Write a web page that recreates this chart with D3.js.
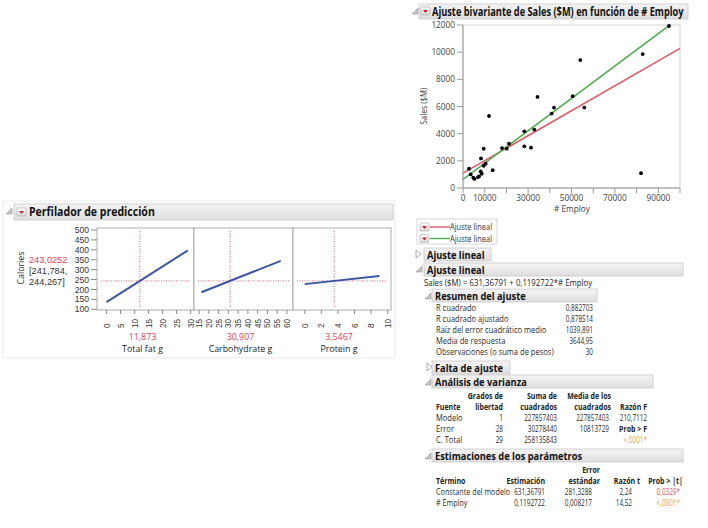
<!DOCTYPE html>
<html><head><meta charset="utf-8">
<script src="https://cdnjs.cloudflare.com/ajax/libs/d3/7.8.5/d3.min.js"></script>
<style>body{margin:0;background:#fff;} svg{display:block;font-family:"Open Sans","Noto Sans",sans-serif;}</style>
</head><body><svg id="c" width="708" height="528"></svg>
<script>
// ---------------- DATA ----------------
const employ = [2765,3548,4747,5300,7373,6900,8157,8618,8295,9539,9539,10461,11982,13687,17972,20138,21198,28249,28249,31336,32857,40876,41935,34332,50553,54055,55899,82811,94931,82028];
const sales  = [1418,997,753,665,849,800,1218,1049,2178,2895,1639,1787,5302,1314,2939,2895,3264,4172,3065,2969,4298,5480,5923,6705,6757,9416,5923,9859,11927,1093];
const fitRed = [1093, 0.0919];            // intercept, slope
const fitGreen = [631.36791, 0.1192722];  // intercept, slope
const scatterXTicks = [0,10000,20000,30000,40000,50000,60000,70000,80000,90000,100000];
const scatterXLabels = ["0","10000","","30000","","50000","","70000","","90000",""];
const scatterYTicks = [0,2000,4000,6000,8000,10000,12000];

const profFactors = ["Total fat g","Carbohydrate g","Protein g"];
const profCurrent = [11.873,30.907,3.5467];
const profCurrentLabels = ["11,873","30,907","3,5467"];
const profDomains = [[-3.4,31.2],[12.4,63.1],[-1.42,10.4]];
const profTicks = [[0,5,10,15,20,25,30],[15,20,25,30,35,40,45,50,55,60],[0,2,4,6,8,10]];
const profLineX = [[0,29],[16.2,56.8],[0,9]];
const profLineY = [[136,397],[186,344],[227,268]];
const profYTicks = [100,150,200,250,300,350,400,450,500];
const predicted = 243.0252;
const predLabels = ["243,0252","[241,784,","244,267]"];

const resumenLabels = ["R cuadrado","R cuadrado ajustado","Raíz del error cuadrático medio","Media de respuesta","Observaciones (o suma de pesos)"];
const resumenValues = ["0,882703","0,878514","1039,891","3644,95","30"];

const anovaSources = ["Modelo","Error","C. Total"];
const anovaDF = ["1","28","29"];
const anovaSS = ["227857403","30278440","258135843"];
const anovaMS = ["227857403","10813729",""];
const anovaF = ["210,7112","Prob > F","<,0001*"];

const paramTerms = ["Constante del modelo","# Employ"];
const paramEst = ["631,36791","0,1192722"];
const paramSE = ["281,3288","0,008217"];
const paramT = ["2,24","14,52"];
const paramP = ["0,0329*","<,0001*"];

// ---------------- HELPERS ----------------
const svg = d3.select("#c");
const defs = svg.append("defs");
const g1 = defs.append("linearGradient").attr("id","hdr").attr("x1",0).attr("y1",0).attr("x2",0).attr("y2",1);
g1.append("stop").attr("offset","0").attr("stop-color","#f4f4f4");
g1.append("stop").attr("offset","1").attr("stop-color","#dedede");
const g2 = defs.append("linearGradient").attr("id","btn").attr("x1",0).attr("y1",0).attr("x2",0).attr("y2",1);
g2.append("stop").attr("offset","0").attr("stop-color","#ffffff");
g2.append("stop").attr("offset","1").attr("stop-color","#d8d8d8");

// text drawn at origin of a group; horizontal squeeze via transform
function txt(s, x, y, o={}) {
  const g = svg.append("g");
  const t = g.append("text").attr("x",0).attr("y",0).text(s)
    .attr("font-size", o.size||8).attr("fill", o.fill||"#333")
    .attr("text-anchor", o.anchor||"start")
    .attr("font-weight", o.bold?"bold":"normal");
  if (o.family) t.attr("font-family", o.family);
  let k = o.k || 1;
  if (o.len) k = o.len / t.node().getComputedTextLength();
  g.attr("transform", `translate(${x},${y})` + (o.rot?` rotate(${o.rot})`:"") + ` scale(${k},1)`);
  return t;
}
function openIcon(x,y){ svg.append("path").attr("d",`M${x+6},${y} L${x+6},${y+6} L${x},${y+6} Z`).attr("fill","#c4c4c4").attr("stroke","#999").attr("stroke-width",0.6); }
function closedIcon(x,y){ svg.append("path").attr("d",`M${x},${y} L${x+5},${y+4} L${x},${y+8} Z`).attr("fill","#fff").attr("stroke","#999").attr("stroke-width",0.8); }
function redBtn(x,y){
  svg.append("rect").attr("x",x).attr("y",y).attr("width",9).attr("height",8).attr("rx",1).attr("fill","url(#btn)").attr("stroke","#aaa").attr("stroke-width",0.6);
  svg.append("path").attr("d",`M${x+2},${y+3} L${x+7},${y+3} L${x+4.5},${y+6} Z`).attr("fill","#d3202a");
}
function headerBar(x,y,w,h){ svg.append("rect").attr("x",x).attr("y",y).attr("width",w).attr("height",h).attr("fill","url(#hdr)").attr("stroke","#c8c8c8").attr("stroke-width",0.8); }
const T = {size:8.4, k:0.9, fill:"#2a2a2a"};                 // table text
const N = {size:8.4, k:0.76, anchor:"end", fill:"#2a2a2a"};  // table numbers
const TB = {size:8, k:0.88, bold:true, fill:"#222"};          // table bold headers
const H = {size:10.8, k:0.86, bold:true, fill:"#111"};        // sub-headers
const o = (base, extra) => Object.assign({}, base, extra);

// ---------------- RIGHT: BIVARIATE ----------------
openIcon(412,8);
headerBar(419,4,269,15);
redBtn(421,7);
txt("Ajuste bivariante de Sales ($M) en función de # Employ", 432, 16, {size:11.5,bold:true,fill:"#111",len:252});

const x = d3.scaleLinear().domain([0,100000]).range([463,680]);
const y = d3.scaleLinear().domain([0,12000]).range([188,25]);

svg.append("rect").attr("x",463).attr("y",25).attr("width",217).attr("height",163).attr("fill","#fff").attr("stroke","#c8c8c8").attr("stroke-width",0.8);
svg.append("line").attr("x1",463).attr("x2",463).attr("y1",25).attr("y2",188).attr("stroke","#999");
svg.append("line").attr("x1",463).attr("x2",680).attr("y1",188).attr("y2",188).attr("stroke","#999");
scatterYTicks.forEach(v=>{
  svg.append("line").attr("x1",457).attr("x2",463).attr("y1",y(v)).attr("y2",y(v)).attr("stroke","#999");
  txt(String(v), 455, y(v)+3, {size:9,anchor:"end",fill:"#444",k:0.92});
});
scatterXTicks.forEach((v,i)=>{
  svg.append("line").attr("x1",x(v)).attr("x2",x(v)).attr("y1",188).attr("y2",193).attr("stroke","#999");
  if (scatterXLabels[i]) txt(scatterXLabels[i], x(v), 201, {size:9,anchor:"middle",fill:"#444",k:0.92});
});
txt("# Employ", 572, 212, {size:9,anchor:"middle",fill:"#444",k:0.92});
txt("Sales ($M)", 427, 106, {size:8.5,anchor:"middle",fill:"#444",rot:-90,k:0.92});

svg.append("clipPath").attr("id","pc").append("rect").attr("x",463).attr("y",25).attr("width",217).attr("height",163);
const plot = svg.append("g").attr("clip-path","url(#pc)");
const fx = [0,100000];
plot.append("line").attr("x1",x(fx[0])).attr("x2",x(fx[1]))
  .attr("y1",y(fitRed[0]+fitRed[1]*fx[0])).attr("y2",y(fitRed[0]+fitRed[1]*fx[1]))
  .attr("stroke","#df5a66").attr("stroke-width",1.6);
plot.append("line").attr("x1",x(fx[0])).attr("x2",x(fx[1]))
  .attr("y1",y(fitGreen[0]+fitGreen[1]*fx[0])).attr("y2",y(fitGreen[0]+fitGreen[1]*fx[1]))
  .attr("stroke","#4cae50").attr("stroke-width",1.6);
svg.selectAll("circle.pt").data(employ.map((e,i)=>[e,sales[i]])).enter().append("circle")
  .attr("class","pt").attr("cx",d=>x(d[0])).attr("cy",d=>y(d[1])).attr("r",1.9).attr("fill","#000");

// legend
svg.append("rect").attr("x",417).attr("y",219).attr("width",80).attr("height",25).attr("fill","#fff").attr("stroke","#ccc").attr("stroke-width",0.8);
[["#df5a66",227],["#4cae50",238.5]].forEach(([c,yy])=>{
  redBtn(420,yy-4);
  svg.append("line").attr("x1",430).attr("x2",450).attr("y1",yy).attr("y2",yy).attr("stroke",c).attr("stroke-width",1.4);
  txt("Ajuste lineal", 450, yy+3, {size:8.3,fill:"#333",k:0.9});
});

// Ajuste lineal (closed)
closedIcon(416,250);
headerBar(424,248,67,13);
txt("Ajuste lineal", 427, 258.5, H);
// Ajuste lineal (open)
openIcon(416,266);
headerBar(424,263,259,13);
txt("Ajuste lineal", 427, 273.5, H);
txt("Sales ($M) = 631,36791 + 0,1192722*# Employ", 424, 286, {size:8.2,fill:"#222",len:168});

// Resumen del ajuste
openIcon(425,293);
headerBar(432,289,165,13);
txt("Resumen del ajuste", 435, 299.5, H);
resumenLabels.forEach((l,i)=>{
  txt(l, 436, 311+i*11, T);
  txt(resumenValues[i], 593, 311+i*11, N);
});

// Falta de ajuste
closedIcon(427,363);
headerBar(432,361,78,13);
txt("Falta de ajuste", 435, 371.5, H);

// Análisis de varianza
openIcon(425,379);
headerBar(432,375,221,13);
txt("Análisis de varianza", 435, 385.5, H);
const aCols = [503,557,611,647];
txt("Grados de", aCols[0], 399, o(TB,{anchor:"end"}));
txt("Suma de", aCols[1], 399, o(TB,{anchor:"end"}));
txt("Media de los", aCols[2], 399, o(TB,{anchor:"end"}));
txt("Fuente", 436, 410, TB);
txt("libertad", aCols[0], 410, o(TB,{anchor:"end"}));
txt("cuadrados", aCols[1], 410, o(TB,{anchor:"end"}));
txt("cuadrados", aCols[2], 410, o(TB,{anchor:"end"}));
txt("Razón F", aCols[3], 410, o(TB,{anchor:"end"}));
anovaSources.forEach((s,i)=>{
  const yy = 421+i*11;
  txt(s, 436, yy, T);
  txt(anovaDF[i], aCols[0], yy, N);
  txt(anovaSS[i], aCols[1], yy, N);
  if (anovaMS[i]) txt(anovaMS[i], aCols[2]-2, yy, N);
  let oo = o(N,{});
  if (i===1) oo = o(TB,{anchor:"end"});
  if (i===2) oo.fill = "#f0a040";
  txt(anovaF[i], aCols[3], yy, oo);
});

// Estimaciones de los parámetros
openIcon(425,453);
headerBar(432,449,251,13);
txt("Estimaciones de los parámetros", 435, 459.5, H);
const pCols = [545,600,640,683];
txt("Error", pCols[1], 473, o(TB,{anchor:"end"}));
txt("Término", 436, 484, TB);
txt("Estimación", pCols[0], 484, o(TB,{anchor:"end"}));
txt("estándar", pCols[1], 484, o(TB,{anchor:"end"}));
txt("Razón t", pCols[2], 484, o(TB,{anchor:"end"}));
txt("Prob > |t|", pCols[3], 484, o(TB,{anchor:"end"}));
paramTerms.forEach((t,i)=>{
  const yy = 495+i*11;
  txt(t, 436, yy, o(T,{k:0.86}));
  txt(paramEst[i], pCols[0], yy, N);
  txt(paramSE[i], pCols[1]-8, yy, N);
  txt(paramT[i], pCols[2]-8, yy, N);
  txt(paramP[i], pCols[3]-3, yy, o(N,{fill: i===0?"#e0505e":"#f0a040"}));
});

// ---------------- LEFT: PROFILER ----------------
svg.append("rect").attr("x",3).attr("y",201).attr("width",392).attr("height",157).attr("fill","none").attr("stroke","#e4e4e4").attr("stroke-width",0.8);
openIcon(6,208);
headerBar(14,204,379,16);
redBtn(17,208);
txt("Perfilador de predicción", 29, 216, {size:12.5,bold:true,fill:"#111",len:126});

const P = {size:9.3, fill:"#333", k:0.95};
const PT = {size:8.6, fill:"#333", family:"Liberation Sans"};
const PL = {size:9.2, fill:"#333", family:"Liberation Sans"};
const py = d3.scaleLinear().domain([100,500]).range([309.3,230]);
const panels = [[97,194],[194,293],[293,391]];
profYTicks.forEach(v=>{
  svg.append("line").attr("x1",91).attr("x2",97).attr("y1",py(v)).attr("y2",py(v)).attr("stroke","#888");
  txt(String(v), 89, py(v)+3.1, o(PT,{anchor:"end"}));
});
txt("Calories", 24, 268, o(P,{anchor:"middle",rot:-90}));
txt(predLabels[0], 29, 263, o(PL,{fill:"#e0405a"}));
txt(predLabels[1], 29, 274, PL);
txt(predLabels[2], 29, 285, PL);

panels.forEach((p,i)=>{
  const px = d3.scaleLinear().domain(profDomains[i]).range(p);
  svg.append("rect").attr("x",p[0]).attr("y",228).attr("width",p[1]-p[0]).attr("height",82).attr("fill","#fff").attr("stroke","#999").attr("stroke-width",0.8);
  svg.append("line").attr("x1",p[0]+4).attr("x2",p[1]-4).attr("y1",py(predicted)).attr("y2",py(predicted))
    .attr("stroke","#e8607a").attr("stroke-width",1).attr("stroke-dasharray","1,1.5");
  svg.append("line").attr("x1",px(profCurrent[i])).attr("x2",px(profCurrent[i])).attr("y1",231).attr("y2",308)
    .attr("stroke","#e8607a").attr("stroke-width",1).attr("stroke-dasharray","1,1.5");
  svg.append("line").attr("x1",px(profLineX[i][0])).attr("x2",px(profLineX[i][1]))
    .attr("y1",py(profLineY[i][0])).attr("y2",py(profLineY[i][1]))
    .attr("stroke","#3d56a0").attr("stroke-width",2);
  profTicks[i].forEach(v=>{
    svg.append("line").attr("x1",px(v)).attr("x2",px(v)).attr("y1",310).attr("y2",314).attr("stroke","#888");
    txt(String(v), px(v)+3, 328, o(PT,{rot:-90, size:8.2}));
  });
  const cx = (p[0]+p[1])/2 - 3;
  txt(profCurrentLabels[i], cx, 340, o(P,{anchor:"middle",fill:"#e0405a"}));
  txt(profFactors[i], cx, 352, o(P,{anchor:"middle",fill:"#222"}));
});
</script></body></html>
